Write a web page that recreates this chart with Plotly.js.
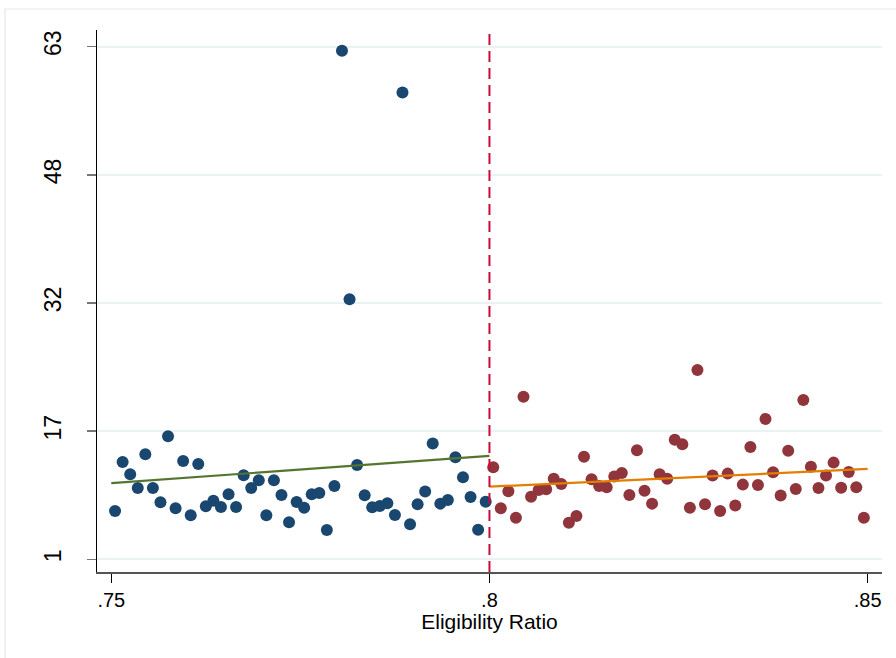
<!DOCTYPE html>
<html>
<head>
<meta charset="utf-8">
<script src="https://cdn.plot.ly/plotly-3.0.1.min.js"></script>
<style>html,body{margin:0;padding:0;background:#fff;}#chart{width:896px;height:658px;}</style>
</head>
<body>
<div id="chart"></div>
<script>
// Bin centres (eligibility ratio) below and above the 0.8 cutoff
const xBelow = [0.7505,0.7515,0.7525,0.7535,0.7545,0.7555,0.7565,0.7575,0.7585,0.7595,
                0.7605,0.7615,0.7625,0.7635,0.7645,0.7655,0.7665,0.7675,0.7685,0.7695,
                0.7705,0.7715,0.7725,0.7735,0.7745,0.7755,0.7765,0.7775,0.7785,0.7795,
                0.7805,0.7815,0.7825,0.7835,0.7845,0.7855,0.7865,0.7875,0.7885,0.7895,
                0.7905,0.7915,0.7925,0.7935,0.7945,0.7955,0.7965,0.7975,0.7985,0.7995];
const yBelow = [6.84,12.77,11.28,9.63,13.70,9.63,7.90,15.88,7.17,12.89,
                6.32,12.53,7.41,8.09,7.33,8.86,7.33,11.16,9.63,10.56,
                6.32,10.56,8.78,5.48,7.93,7.24,8.86,9.02,4.55,9.87,
                62.50,32.46,12.41,8.74,7.29,7.45,7.78,6.36,57.45,5.23,
                7.65,9.20,14.99,7.73,8.17,13.34,10.92,8.54,4.58,7.97];
const xAbove = [0.8005,0.8015,0.8025,0.8035,0.8045,0.8055,0.8065,0.8075,0.8085,0.8095,
                0.8105,0.8115,0.8125,0.8135,0.8145,0.8155,0.8165,0.8175,0.8185,0.8195,
                0.8205,0.8215,0.8225,0.8235,0.8245,0.8255,0.8265,0.8275,0.8285,0.8295,
                0.8305,0.8315,0.8325,0.8335,0.8345,0.8355,0.8365,0.8375,0.8385,0.8395,
                0.8405,0.8415,0.8425,0.8435,0.8445,0.8455,0.8465,0.8475,0.8485,0.8495];
const yAbove = [12.13,7.17,9.23,6.03,20.67,8.57,9.38,9.47,10.75,10.11,
                5.43,6.24,13.41,10.68,9.87,9.71,11.00,11.44,8.78,14.19,
                9.30,7.73,11.28,10.75,15.47,14.91,7.24,23.90,7.65,11.12,
                6.84,11.36,7.49,10.03,14.59,9.99,17.98,11.53,8.70,14.14,
                9.51,20.27,12.20,9.63,11.12,12.69,9.66,11.56,9.71,6.03];
// Linear fit endpoints on each side
const fitBelowX = [0.75, 0.80];
const fitBelowY = [10.20, 13.50];
const fitAboveX = [0.80, 0.85];
const fitAboveY = [9.78, 11.93];
// Cutoff
const cutoff = 0.8;
// Axis ticks
const yTickVals = [1, 16.5, 32, 47.5, 63];
const yTickText = ['1', '17', '32', '48', '63'];
const xTickVals = [0.75, 0.80, 0.85];
const xTickText = ['.75', '.8', '.85'];

const FONT = 'Liberation Sans, Arial, sans-serif';

const traces = [
  {x: xBelow, y: yBelow, type: 'scatter', mode: 'markers',
   marker: {color: '#1a476f', size: 12, line: {width: 0}}, hoverinfo: 'x+y'},
  {x: xAbove, y: yAbove, type: 'scatter', mode: 'markers',
   marker: {color: '#90353b', size: 12, line: {width: 0}}, hoverinfo: 'x+y'},
  {x: fitBelowX, y: fitBelowY, type: 'scatter', mode: 'lines',
   line: {color: '#55752f', width: 2.2}},
  {x: fitAboveX, y: fitAboveY, type: 'scatter', mode: 'lines',
   line: {color: '#e37e00', width: 2.2}}
];

const layout = {
  width: 896, height: 658,
  margin: {l: 97, r: 14, t: 30, b: 86, pad: 0},
  paper_bgcolor: '#ffffff', plot_bgcolor: '#ffffff',
  showlegend: false,
  font: {family: FONT, color: '#000'},
  xaxis: {
    range: [0.74811, 0.8519],
    tickvals: xTickVals, ticktext: xTickText,
    ticks: 'outside', ticklen: 9, tickwidth: 1.2, tickcolor: '#000',
    showline: true, linecolor: '#555', linewidth: 1.5,
    showgrid: false, zeroline: false,
    tickfont: {family: FONT, size: 20, color: '#000'},
    title: {text: 'Eligibility Ratio', font: {family: FONT, size: 21, color: '#000'}, standoff: 4}
  },
  yaxis: {
    range: [-0.54, 65.02],
    tickvals: yTickVals, ticktext: yTickText,
    ticks: 'outside', ticklen: 9, tickwidth: 1.5, tickcolor: '#777',
    tickangle: -90,
    showline: true, linecolor: '#000', linewidth: 1.2,
    showgrid: true, gridcolor: '#eaf2f3', gridwidth: 2,
    zeroline: false,
    tickfont: {family: FONT, size: 23, color: '#000'},
    ticklabelstandoff: 17
  },
  shapes: [
    {type: 'line', xref: 'x', yref: 'paper', x0: cutoff, x1: cutoff, y0: 0, y1: 0.995,
     line: {color: '#c90b3c', width: 2, dash: '11px,6px'}},
    {type: 'line', xref: 'paper', yref: 'paper', x0: -0.1172, x1: 1.05, y0: 1.0387, y1: 1.0387,
     line: {color: '#e3e8ea', width: 1.2}},
    {type: 'line', xref: 'paper', yref: 'paper', x0: -0.1172, x1: -0.1172, y0: 1.0387, y1: -0.2,
     line: {color: '#e3e8ea', width: 1.2}}
  ]
};

Plotly.newPlot('chart', traces, layout, {displayModeBar: false, staticPlot: true});
</script>
</body>
</html>
